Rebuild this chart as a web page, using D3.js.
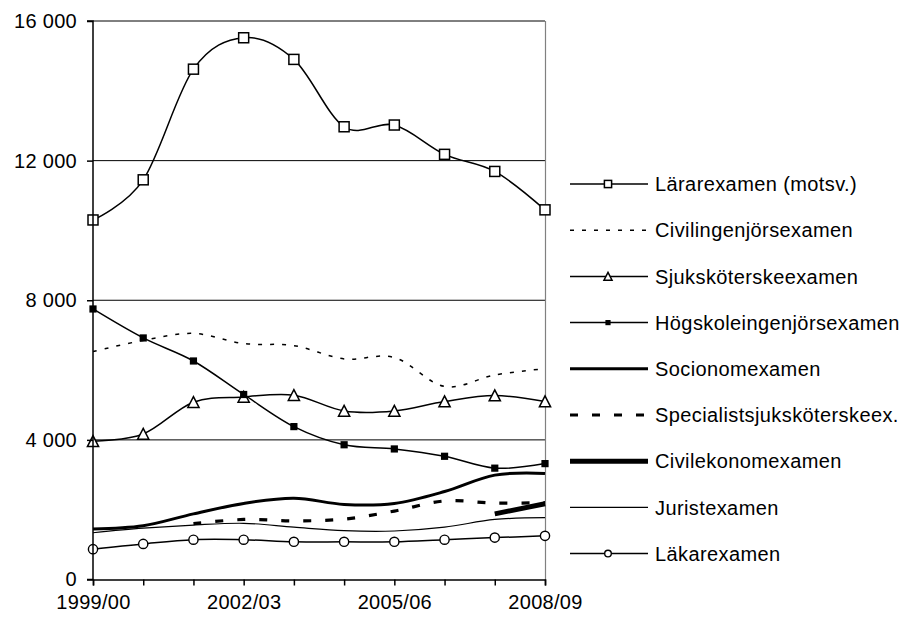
<!DOCTYPE html>
<html>
<head>
<meta charset="utf-8">
<script src="https://cdnjs.cloudflare.com/ajax/libs/d3/7.8.5/d3.min.js"></script>
<style>
    body { margin: 0; background: #fff; }
    svg { display: block; font-family: Arial, "Liberation Sans", sans-serif; }
    text { fill: #000; }
</style>
</head>
<body>
<svg width="899" height="618"></svg>
<script>
    // academic years
    const years = ["1999/00", "2000/01", "2001/02", "2002/03", "2003/04",
                   "2004/05", "2005/06", "2006/07", "2007/08", "2008/09"];
    const yTicks = [0, 4000, 8000, 12000, 16000];

    // number of degrees per year
    const lararexamen      = [10300, 11450, 14620, 15520, 14900, 12970, 13020, 12180, 11690, 10590];
    const civilingenjor    = [6530, 6850, 7050, 6760, 6700, 6320, 6360, 5530, 5860, 6040];
    const sjukskoterske    = [3960, 4170, 5080, 5230, 5280, 4830, 4830, 5100, 5270, 5100];
    const hogskoleingenjor = [7750, 6920, 6260, 5300, 4380, 3860, 3740, 3530, 3190, 3320];
    const socionom         = [1450, 1540, 1880, 2180, 2330, 2150, 2180, 2520, 2990, 3040];
    const specialist       = [null, null, 1600, 1720, 1680, 1730, 1960, 2250, 2190, 2200];
    const civilekonom      = [null, null, null, null, null, null, null, null, 1880, 2170];
    const jurist           = [1340, 1470, 1560, 1610, 1500, 1400, 1390, 1500, 1720, 1770];
    const lakare           = [870, 1020, 1140, 1140, 1080, 1080, 1080, 1140, 1200, 1250];

    const series = [
        { name: "Lärarexamen (motsv.)", values: lararexamen, width: 1.5, dash: null, marker: "square" },
        { name: "Civilingenjörsexamen", values: civilingenjor, width: 1.5, dash: "4,8", marker: null },
        { name: "Sjuksköterskeexamen", values: sjukskoterske, width: 1.5, dash: null, marker: "triangle" },
        { name: "Högskoleingenjörsexamen", values: hogskoleingenjor, width: 1.5, dash: null, marker: "fsquare" },
        { name: "Socionomexamen", values: socionom, width: 3, dash: null, marker: null },
        { name: "Specialistsjuksköterskeex.", values: specialist, width: 3.2, dash: "8,14", marker: null },
        { name: "Civilekonomexamen", values: civilekonom, width: 5, dash: null, marker: null },
        { name: "Juristexamen", values: jurist, width: 1.2, dash: null, marker: null },
        { name: "Läkarexamen", values: lakare, width: 1.5, dash: null, marker: "circle" }
    ];

    const svg = d3.select("svg");
    const x = d3.scalePoint().domain(years).range([93, 545]);
    const y = d3.scaleLinear().domain([0, 16000]).range([579.5, 21]);

    const fmt = d3.formatLocale({ decimal: ",", thousands: " ", grouping: [3], currency: ["", ""] }).format(",");

    // gridlines
    svg.append("g").selectAll("line").data(yTicks.filter(d => d > 0)).join("line")
        .attr("x1", x.range()[0]).attr("x2", x.range()[1])
        .attr("y1", d => y(d)).attr("y2", d => y(d))
        .attr("stroke", "#000").attr("stroke-width", 1);

    // right border of plot
    svg.append("line")
        .attr("x1", 545.5).attr("x2", 545.5).attr("y1", y(16000)).attr("y2", y(0))
        .attr("stroke", "#808080").attr("stroke-width", 1.2);

    function drawMarker(g, type, cx, cy, big) {
        const s = big ? 1 : 0.72;
        if (type === "square") {
            const h = 5 * s;
            g.append("rect").attr("x", cx - h).attr("y", cy - h).attr("width", 2 * h).attr("height", 2 * h)
                .attr("fill", "#fff").attr("stroke", "#000").attr("stroke-width", 1.5);
        } else if (type === "fsquare") {
            const h = 3.6 * s;
            g.append("rect").attr("x", cx - h).attr("y", cy - h).attr("width", 2 * h).attr("height", 2 * h)
                .attr("fill", "#000");
        } else if (type === "triangle") {
            const h = 5.6 * s;
            g.append("path")
                .attr("d", `M${cx},${cy - h}L${cx + h},${cy + h * 0.95}L${cx - h},${cy + h * 0.95}Z`)
                .attr("fill", "#fff").attr("stroke", "#000").attr("stroke-width", 1.5);
        } else if (type === "circle") {
            g.append("circle").attr("cx", cx).attr("cy", cy).attr("r", 4.6 * s)
                .attr("fill", "#fff").attr("stroke", "#000").attr("stroke-width", 1.4);
        }
    }

    const line = d3.line()
        .defined(d => d.v != null)
        .x(d => x(d.year)).y(d => y(d.v))
        .curve(d3.curveCardinal.tension(0));

    series.forEach(s => {
        const pts = years.map((yr, i) => ({ year: yr, v: s.values[i] }));
        const g = svg.append("g");
        g.append("path").datum(pts).attr("d", line)
            .attr("fill", "none").attr("stroke", "#000")
            .attr("stroke-width", s.width)
            .attr("stroke-dasharray", s.dash)
            .attr("stroke-linejoin", "round");
        if (s.marker) {
            pts.filter(d => d.v != null).forEach(d => drawMarker(g, s.marker, x(d.year), y(d.v), true));
        }
    });

    // axes
    const yAxis = svg.append("g").attr("transform", `translate(${x.range()[0]},0)`)
        .call(d3.axisLeft(y).tickValues(yTicks).tickSize(6).tickPadding(10).tickFormat(fmt));
    const xAxis = svg.append("g").attr("transform", `translate(0,${y(0)})`)
        .call(d3.axisBottom(x).tickSize(6).tickPadding(9).tickFormat((d, i) => i % 3 === 0 ? d : ""));
    [yAxis, xAxis].forEach(a => {
        a.select(".domain").attr("stroke", "#000").attr("stroke-width", 1.5);
        a.selectAll(".tick line").attr("stroke", "#000").attr("stroke-width", 1.5);
        a.selectAll("text").attr("font-size", 20).attr("letter-spacing", "0.3px")
            .attr("font-family", "Arial, 'Liberation Sans', sans-serif");
    });
    yAxis.select(".domain").attr("d", `M-6,${y(0)}H0V${y(16000)}H-6`);

    // legend
    const legend = svg.append("g");
    series.forEach((s, i) => {
        const cy = 184 + i * 46.2;
        const g = legend.append("g");
        g.append("line").attr("x1", 570).attr("x2", 648).attr("y1", cy).attr("y2", cy)
            .attr("stroke", "#000").attr("stroke-width", s.width)
            .attr("stroke-dasharray", s.dash);
        if (s.marker) drawMarker(g, s.marker, 608, cy, false);
        g.append("text").attr("x", 655).attr("y", cy).attr("dy", "0.36em")
            .attr("font-size", 20).attr("letter-spacing", "0.4px").text(s.name);
    });
</script>
</body>
</html>
